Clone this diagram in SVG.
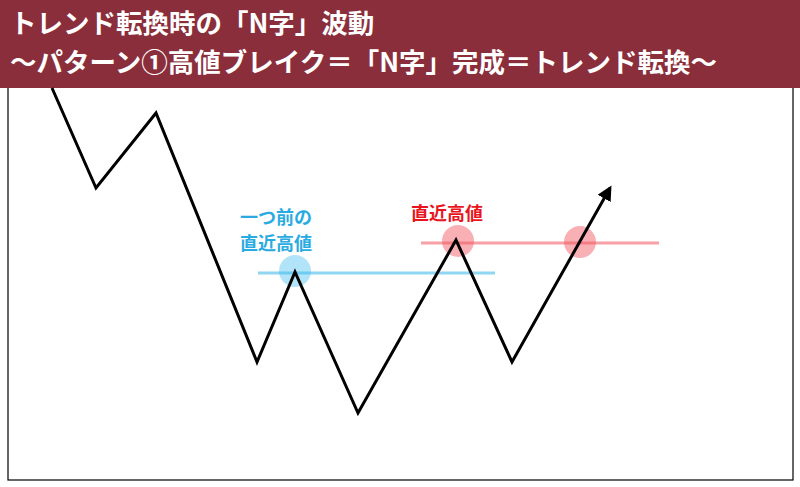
<svg xmlns="http://www.w3.org/2000/svg" width="800" height="487" viewBox="0 0 800 487">
<defs>
<style>
.h{font-family:"Noto Sans CJK JP",sans-serif;font-weight:bold;font-size:26.5px;fill:#fff}
.l{font-family:"Noto Sans CJK JP",sans-serif;font-weight:bold;font-size:18px}
</style>
<marker id="ar" viewBox="0 0 10 10" refX="8" refY="5" markerWidth="5" markerHeight="5" orient="auto"><path d="M0,0L10,5L0,10z" fill="#000"/></marker>
</defs>
<rect x="0" y="0" width="800" height="487" fill="#fff"/>
<rect x="8" y="80" width="785" height="400" fill="#fff" stroke="#000" stroke-width="1.2"/>
<g id="header"><rect x="0" y="0" width="800" height="88" fill="#8B2E3C"/>
<text class="h" x="10" y="33">トレンド転換時の「N字」波動</text>
<text class="h" x="10" y="72">〜パターン①高値ブレイク＝「N字」完成＝トレンド転換〜</text></g>
<g id="lines">
<line x1="258" y1="273" x2="495" y2="273" stroke="#8fd6f3" stroke-width="3"/>
<line x1="421" y1="243" x2="659" y2="243" stroke="#f7a0a5" stroke-width="3"/>
</g>
<g id="markers">
<circle cx="295" cy="271" r="16" fill="#3dbbee" fill-opacity="0.4"/>
<circle cx="458" cy="241" r="16" fill="#f0505a" fill-opacity="0.45"/>
<circle cx="580" cy="242" r="16" fill="#f0505a" fill-opacity="0.45"/>
</g>
<g id="connectors"><polyline points="52,88 96,188 156,113 257,362 295,272 358,413 456,240 512,362 610,188" fill="none" stroke="#000" stroke-width="3" marker-end="url(#ar)"/></g>
<g id="labels">
<text class="l" x="240" y="224" fill="#29abe2">一つ前の</text>
<text class="l" x="240" y="250" fill="#29abe2">直近高値</text>
<text class="l" x="411" y="220" fill="#e8141e">直近高値</text>
</g>
</svg>
